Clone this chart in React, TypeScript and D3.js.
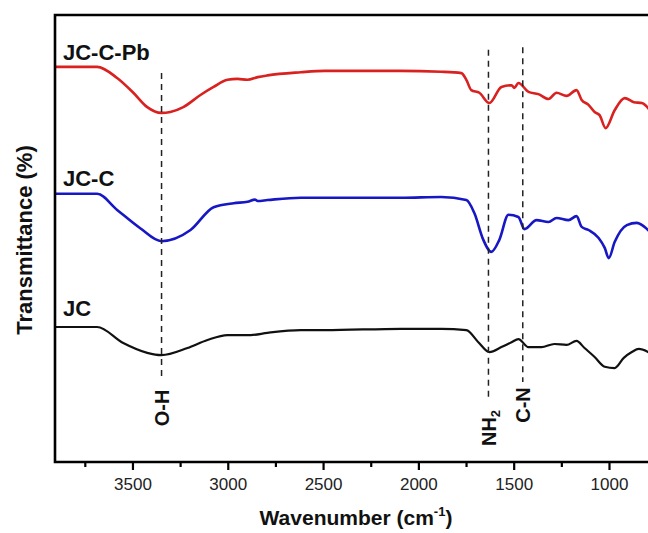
import React, { useEffect, useRef } from 'react';
import * as d3 from 'd3';

// FTIR spectra, wavenumber (cm-1) vs transmittance (offset, a.u.)
const wavenumberTicks = [3500, 3000, 2500, 2000, 1500, 1000];
const minorTicks = [3750, 3250, 2750, 2250, 1750, 1250];

const jcCPb: [number, number][] = [
  [3910, 88.4], [3688, 88.4], [3583, 85.9], [3498, 82.6], [3425, 79.4], [3351, 78.1],
  [3304, 78.3], [3236, 79.4], [3146, 82.1], [3077, 83.9], [3004, 85.5], [2952, 85.7],
  [2899, 85.5], [2846, 86.1], [2794, 86.5], [2620, 87.2], [2493, 87.5], [2300, 87.5],
  [2100, 87.5], [1883, 87.3], [1777, 87.0], [1751, 85.5], [1725, 83.2], [1683, 82.6],
  [1630, 80.3], [1567, 83.9], [1514, 84.3], [1499, 83.7], [1478, 84.8], [1425, 82.8],
  [1373, 82.3], [1320, 81.2], [1278, 82.6], [1225, 81.9], [1173, 83.2], [1146, 81.0],
  [1110, 79.9], [1078, 78.3], [1052, 77.6], [1020, 74.7], [973, 78.7], [920, 81.4],
  [872, 80.5], [830, 80.3], [788, 78.7],
];

const jcC: [number, number][] = [
  [3910, 60.0], [3688, 60.0], [3583, 56.4], [3462, 52.3], [3351, 49.4], [3198, 51.9],
  [3077, 57.0], [2972, 57.9], [2899, 58.2], [2860, 58.7], [2846, 58.4], [2794, 58.6],
  [2620, 59.1], [2493, 59.1], [2093, 59.1], [1883, 59.3], [1751, 58.6], [1709, 55.7],
  [1662, 49.7], [1620, 47.0], [1578, 49.7], [1530, 55.3], [1478, 54.8], [1446, 52.1],
  [1383, 54.1], [1320, 53.7], [1278, 54.6], [1215, 54.1], [1173, 55.0], [1146, 52.6],
  [1110, 51.9], [1057, 50.1], [1025, 47.9], [1004, 45.6], [973, 49.2], [909, 53.0],
  [857, 53.5], [788, 51.5],
];

const jc: [number, number][] = [
  [3910, 30.2], [3688, 30.2], [3551, 26.6], [3425, 24.4], [3351, 23.9], [3214, 25.5],
  [3109, 27.3], [3004, 28.4], [2883, 28.4], [2794, 28.9], [2620, 29.5], [2493, 29.5],
  [2093, 29.8], [1883, 29.8], [1751, 29.5], [1688, 26.8], [1630, 24.6], [1567, 25.7],
  [1514, 26.8], [1478, 27.5], [1425, 25.7], [1357, 25.7], [1289, 26.4], [1225, 26.2],
  [1173, 27.1], [1131, 25.5], [1078, 23.5], [1025, 21.3], [973, 21.0], [925, 23.3],
  [883, 24.6], [846, 25.3], [788, 24.4],
];

const seriesNames = ['JC-C-Pb', 'JC-C', 'JC'];
const bandNames = ['O-H', 'NH2', 'C-N'];
const bandWavenumbers = [3350, 1635, 1455];

const App = () => {
  const ref = useRef<SVGSVGElement>(null);

  useEffect(() => {
    const svg = d3.select(ref.current);
    svg.selectAll('*').remove();

    const width = 648;
    const height = 533;
    const margin = { top: 15, right: 0, bottom: 71, left: 55 };

    const x = d3.scaleLinear()
      .domain([3909, 798])
      .range([margin.left, width - margin.right]);

    const y = d3.scaleLinear()
      .domain([0, 100])
      .range([height - margin.bottom, margin.top]);

    const font = 'Arial, "Liberation Sans", sans-serif';

    // spectra
    const line = d3.line<[number, number]>()
      .x(d => x(d[0]))
      .y(d => y(d[1]))
      .curve(d3.curveMonotoneX);

    const series = [
      { data: jcCPb, color: '#d9211f', width: 2.6, labelY: 60 },
      { data: jcC, color: '#1717c4', width: 2.6, labelY: 186 },
      { data: jc, color: '#111111', width: 2.2, labelY: 316 },
    ];

    series.forEach((s, i) => {
      svg.append('path')
        .datum(s.data)
        .attr('fill', 'none')
        .attr('stroke', s.color)
        .attr('stroke-width', s.width)
        .attr('stroke-linejoin', 'round')
        .attr('d', line);

      svg.append('text')
        .attr('x', 63)
        .attr('y', s.labelY)
        .attr('font-family', font)
        .attr('font-weight', 'bold')
        .attr('font-size', 22)
        .attr('fill', '#111')
        .text(seriesNames[i]);
    });

    // band markers
    const bandSpans = [[87.0, 19.0], [92.2, 14.3], [92.8, 17.9]];
    const bandLabelY = [408, 428, 405];

    bandWavenumbers.forEach((w, i) => {
      svg.append('line')
        .attr('x1', x(w)).attr('x2', x(w))
        .attr('y1', y(bandSpans[i][0])).attr('y2', y(bandSpans[i][1]))
        .attr('stroke', '#222')
        .attr('stroke-width', 1.5)
        .attr('stroke-dasharray', '6,5');

      const t = svg.append('text')
        .attr('transform', `translate(${x(w)},${bandLabelY[i]}) rotate(-90)`)
        .attr('text-anchor', 'middle')
        .attr('dy', '0.36em')
        .attr('font-family', font)
        .attr('font-weight', 'bold')
        .attr('font-size', 20)
        .attr('fill', '#111');
      if (bandNames[i] === 'NH2') {
        t.append('tspan').text('NH');
        t.append('tspan').attr('font-size', 13).attr('dy', '0.35em').text('2');
      } else {
        t.text(bandNames[i]);
      }
    });

    // frame
    const bottom = height - margin.bottom;
    svg.append('path')
      .attr('d', `M${width},${margin.top}H${margin.left}V${bottom}H${width}`)
      .attr('fill', 'none')
      .attr('stroke', '#000')
      .attr('stroke-width', 2.6);

    // ticks
    const axis = svg.append('g');
    wavenumberTicks.forEach(t => {
      axis.append('line')
        .attr('x1', x(t)).attr('x2', x(t))
        .attr('y1', bottom).attr('y2', bottom + 8)
        .attr('stroke', '#000').attr('stroke-width', 2.2);
      axis.append('text')
        .attr('x', x(t))
        .attr('y', bottom + 28)
        .attr('text-anchor', 'middle')
        .attr('font-family', font)
        .attr('font-size', 17)
        .attr('fill', '#222')
        .text(t);
    });
    minorTicks.forEach(t => {
      axis.append('line')
        .attr('x1', x(t)).attr('x2', x(t))
        .attr('y1', bottom).attr('y2', bottom + 5)
        .attr('stroke', '#000').attr('stroke-width', 2.2);
    });

    // axis titles
    const xt = svg.append('text')
      .attr('x', 356)
      .attr('y', 525)
      .attr('text-anchor', 'middle')
      .attr('font-family', font)
      .attr('font-weight', 'bold')
      .attr('font-size', 21)
      .attr('fill', '#111');
    xt.append('tspan').text('Wavenumber (cm');
    xt.append('tspan').attr('font-size', 13).attr('dy', '-0.7em').text('-1');
    xt.append('tspan').attr('dy', '0.45em').text(')');

    svg.append('text')
      .attr('transform', 'translate(32,240) rotate(-90)')
      .attr('text-anchor', 'middle')
      .attr('font-family', font)
      .attr('font-weight', 'bold')
      .attr('font-size', 22)
      .attr('fill', '#111')
      .text('Transmittance (%)');
  }, []);

  return (
    <svg
      ref={ref}
      width={648}
      height={533}
      style={{ position: 'absolute', left: 0, top: 0, background: '#fff' }}
    />
  );
};

export default App;
